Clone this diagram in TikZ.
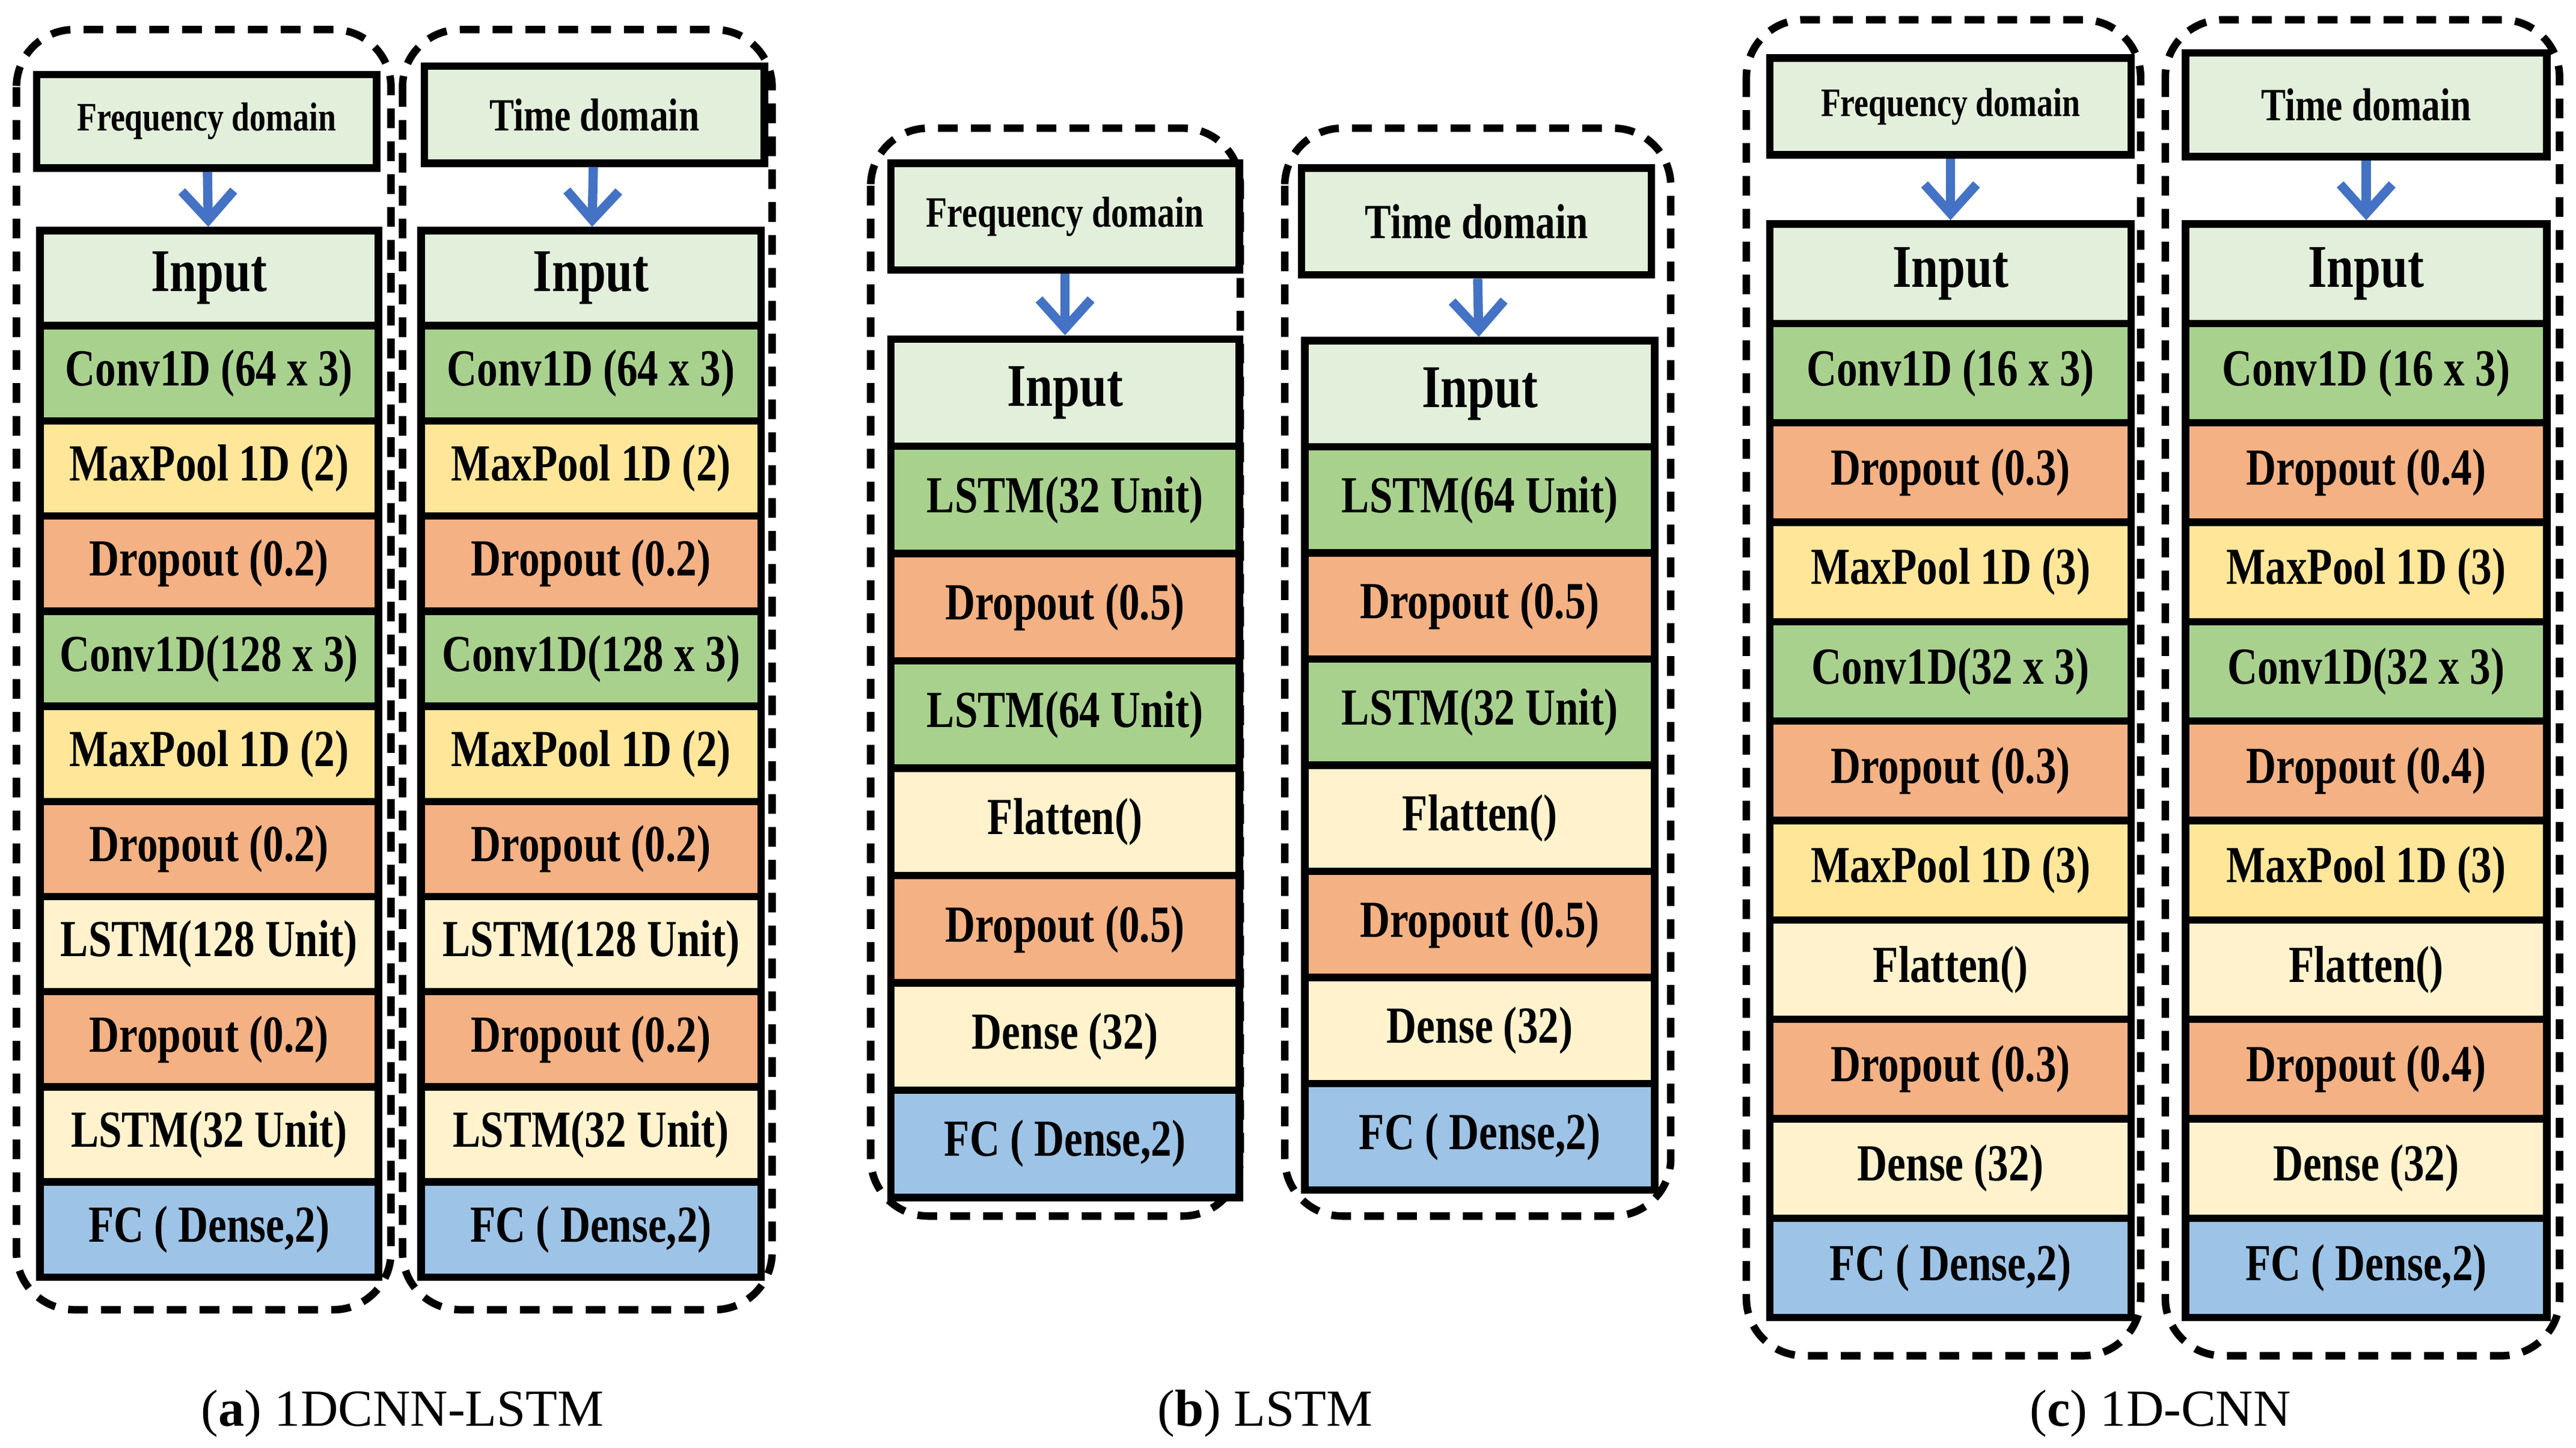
\documentclass[tikz,border=0pt]{standalone}
\usepackage{fontspec}
\setmainfont{Liberation Serif}
\newfontfamily\lay{Liberation Serif}[FakeStretch=0.8]
\usetikzlibrary{arrows.meta}
\definecolor{lg}{HTML}{E2EFDA}
\definecolor{gr}{HTML}{A9D18E}
\definecolor{ye}{HTML}{FFE699}
\definecolor{or}{HTML}{F4B183}
\definecolor{cr}{HTML}{FFF2CC}
\definecolor{bl}{HTML}{9DC3E6}
\definecolor{ar}{HTML}{4472C4}
\tikzset{
 layer/.style={draw=black,line width=1.3pt,inner sep=0pt,anchor=north west,font=\lay\bfseries\fontsize{9}{10}\selectfont},
 top/.style={layer,fill=lg},
 outer/.style={draw=black,line width=1.3pt,dash pattern=on 0.12cm off 0.08cm,rounded corners=0.35cm},
 flow/.style={draw=ar,line width=1.6pt,-{Straight Barb[length=5pt,width=9pt,line width=1.6pt]}},
 captxt/.style={font=\fontsize{9}{11}\selectfont}
}
\newcommand\stk[6]{% prefix x1 x2 ytop step list
 \foreach[count=\ii] \cl/\tx in #6{
  \pgfmathsetmacro\ya{#4+(\ii-1)*#5}
  \node[layer,fill=\cl,minimum width={(#3-#2)*0.01cm},minimum height={#5*0.01cm}] (#1-\ii) at (#2,\ya) {\tx};
 }}
\newcommand\hdr[7]{% name x1 x2 y1 y2 text fontsize
 \node[top,minimum width={(#3-#2)*0.01cm},minimum height={(#5-#4)*0.01cm},font=\lay\bfseries\fontsize{#7}{#7}\selectfont] (#1) at (#2,#4) {#6};}
\newcommand\inp{\fontsize{10.5}{11}\selectfont Input}
\begin{document}
\begin{tikzpicture}[x=0.01cm,y=-0.01cm]
\useasboundingbox (0,0) rectangle (1568,881);
% panel a
\draw[outer] (10,18) rectangle (238,797);
\draw[outer] (245,18) rectangle (470,797);
\hdr{a1h}{20}{227}{43}{100}{Frequency domain}{7}
\hdr{a2h}{256}{463}{38}{97}{Time domain}{8}
\def\alist{lg/\inp,gr/{Conv1D (64 x 3)},ye/{MaxPool 1D (2)},or/{Dropout (0.2)},gr/{Conv1D(128 x 3)},ye/{MaxPool 1D (2)},or/{Dropout (0.2)},cr/{LSTM(128 Unit)},or/{Dropout (0.2)},cr/{LSTM(32 Unit)},bl/{FC ( Dense,2)}}
\stk{a1}{22}{228}{138}{57.9}{\alist}
\stk{a2}{254}{461}{138}{57.9}{\alist}
\draw[flow] (a1h) -- (a1-1);
\draw[flow] (a2h) -- (a2-1);
% panel b
\draw[outer] (530,78) rectangle (755,740);
\draw[outer] (782,78) rectangle (1017,740);
\hdr{b1h}{540}{752}{97}{162}{Frequency domain}{7.5}
\hdr{b2h}{790}{1003}{100}{165}{Time domain}{8.5}
\stk{b1}{540}{752}{204}{65.3}{{lg/\inp,gr/{LSTM(32 Unit)},or/{Dropout (0.5)},gr/{LSTM(64 Unit)},cr/{Flatten()},or/{Dropout (0.5)},cr/{Dense (32)},bl/{FC ( Dense,2)}}}
\stk{b2}{792}{1005}{205}{64.6}{{lg/\inp,gr/{LSTM(64 Unit)},or/{Dropout (0.5)},gr/{LSTM(32 Unit)},cr/{Flatten()},or/{Dropout (0.5)},cr/{Dense (32)},bl/{FC ( Dense,2)}}}
\draw[flow] (b1h) -- (b1-1);
\draw[flow] (b2h) -- (b2-1);
% panel c
\draw[outer] (1063,12) rectangle (1303,825);
\draw[outer] (1318,12) rectangle (1558,825);
\hdr{c1h}{1075}{1295}{33}{92}{Frequency domain}{7}
\hdr{c2h}{1328}{1548}{30}{93}{Time domain}{8}
\stk{c1}{1075}{1295}{134}{60.5}{{lg/\inp,gr/{Conv1D (16 x 3)},or/{Dropout (0.3)},ye/{MaxPool 1D (3)},gr/{Conv1D(32 x 3)},or/{Dropout (0.3)},ye/{MaxPool 1D (3)},cr/{Flatten()},or/{Dropout (0.3)},cr/{Dense (32)},bl/{FC ( Dense,2)}}}
\stk{c2}{1328}{1548}{134}{60.5}{{lg/\inp,gr/{Conv1D (16 x 3)},or/{Dropout (0.4)},ye/{MaxPool 1D (3)},gr/{Conv1D(32 x 3)},or/{Dropout (0.4)},ye/{MaxPool 1D (3)},cr/{Flatten()},or/{Dropout (0.4)},cr/{Dense (32)},bl/{FC ( Dense,2)}}}
\draw[flow] (c1h) -- (c1-1);
\draw[flow] (c2h) -- (c2-1);
% captions
\node[captxt] (capa) at (245,860) {(\textbf{a}) 1DCNN-LSTM};
\node[captxt] (capb) at (770,860) {(\textbf{b}) LSTM};
\node[captxt] (capc) at (1315,860) {(\textbf{c}) 1D-CNN};
\end{tikzpicture}
\end{document}
